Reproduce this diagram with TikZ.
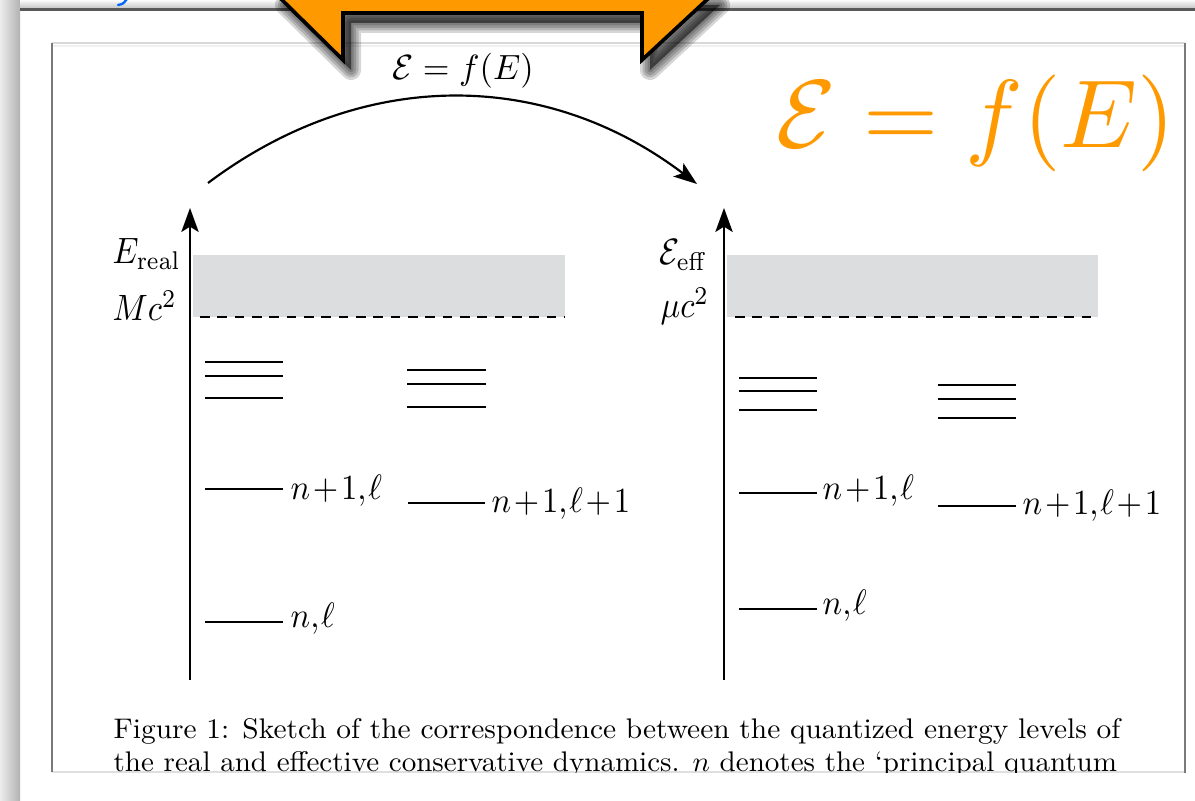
\documentclass[tikz,border=0pt]{standalone}
\usepackage{amsmath}
\usepackage{amssymb}
\usepackage{graphicx}
\usetikzlibrary{arrows.meta}

\definecolor{bandgray}{HTML}{DCDDDF}
\definecolor{slideorange}{HTML}{FF9900}
\definecolor{framegray}{HTML}{7A7A7A}

\tikzset{
  axisline/.style={line width=0.65pt, -{Stealth[length=7.2pt,width=5.2pt,inset=1.6pt]}},
  level/.style={line width=0.7pt},
  threshold/.style={line width=0.75pt, dash pattern=on 2.9pt off 2.3pt},
  axlabel/.style={anchor=base west, inner sep=0pt, xscale=0.98, yscale=1.1},
  lvllabel/.style={anchor=base west, inner sep=0pt, xscale=0.98, yscale=1.06,
    execute at begin node={\medmuskip=1.5mu\thinmuskip=1mu}},
  toplabel/.style={anchor=base, inner sep=0pt, xscale=1.03, yscale=1.05},
  caption/.style={anchor=base west, inner sep=0pt},
}

\begin{document}
\begin{tikzpicture}[x=0.3pt, y=-0.3pt]
  \useasboundingbox (0,0) rectangle (1195,801);
  % slide page and its shadow
  \fill[white] (0,0) rectangle (1195,801);
  \shade[left color=gray!15, right color=gray!60] (0,0) rectangle (20,801);
  \shade[top color=gray!3, bottom color=gray!55] (20,0) rectangle (1195,10);
  \draw[gray!70!black, line width=0.8pt] (20,9.5) -- (1195,9.5);
  \draw[blue!60!cyan, line width=0.7pt, line cap=round] (118,5) .. controls (123,4) .. (127,-1);

  % frame of the figure
  \draw[gray!30, line width=0.45pt] (52,43) -- (1185,43);
  \draw[gray!12, line width=0.45pt] (52,46) -- (1185,46);
  \draw[gray!25, line width=0.45pt] (52,772) -- (1185,772);
  \draw[framegray, line width=0.5pt] (52,43) -- (52,772);
  \draw[framegray, line width=0.6pt] (1185,43) -- (1185,773);

  % real dynamics
  \fill[bandgray] (193,255) rectangle (565,317);
  \draw[threshold] (200,317) -- (565,317);
  \coordinate (lbot) at (190,680);
  \coordinate (ltop) at (190,208);
  \draw[axisline] (lbot) -- (ltop);
  \node[axlabel] (ereal) at (112,264) {$E_{\mathrm{real}}$};
  \node[axlabel] (mcsq) at (112,321) {$Mc^2$};
  \foreach \y in {362,376,398} \draw[level] (205,\y) -- (283,\y);
  \foreach \y in {370,384,407} \draw[level] (407,\y) -- (486,\y);
  \draw[level] (205,489) -- (283,489);
  \node[lvllabel] (lnone) at (290,500) {$n+1,\ell$};
  \draw[level] (408,503) -- (485,503);
  \node[lvllabel] (lnoneone) at (491,513) {$n+1,\ell+1$};
  \draw[level] (205,622) -- (283,622);
  \node[lvllabel] (lnl) at (290,627) {$n,\ell$};

  % effective dynamics
  \fill[bandgray] (727,255) rectangle (1098,317);
  \draw[threshold] (735,317) -- (1098,317);
  \coordinate (rbot) at (724,680);
  \coordinate (rtop) at (724,208);
  \draw[axisline] (rbot) -- (rtop);
  \node[axlabel] (eeff) at (659,265) {$\mathcal{E}_{\mathrm{eff}}$};
  \node[axlabel] (mucsq) at (660,318) {$\mu c^2$};
  \foreach \y in {378,391,410} \draw[level] (739,\y) -- (817,\y);
  \foreach \y in {385,399,418} \draw[level] (938,\y) -- (1016,\y);
  \draw[level] (739,493) -- (817,493);
  \node[lvllabel] (rnone) at (822,500) {$n+1,\ell$};
  \draw[level] (938,506) -- (1016,506);
  \node[lvllabel] (rnoneone) at (1022,515) {$n+1,\ell+1$};
  \draw[level] (739,609) -- (817,609);
  \node[lvllabel] (rnl) at (822,615) {$n,\ell$};

  % mapping arrow
  \coordinate (arcstart) at (208,183);
  \coordinate (arcend) at (697,184);
  \draw[line width=0.65pt, -{Stealth[length=7pt,width=5pt,inset=1.6pt]}]
    (arcstart) .. controls (361,68) and (544,68) .. (arcend);
  \node[toplabel] (mapping) at (463,80) {$\mathcal{E} = f(E)$};

  % caption
  \node[caption] (capone) at (113,738)
    {\resizebox{302pt}{6pt}{Figure 1: Sketch of the correspondence between the quantized energy levels of}};
  \begin{scope}
    \clip (52,700) rectangle (1185,772);
    \node[caption] (captwo) at (113,771)
      {\resizebox{301pt}{6pt}{the real and effective conservative dynamics. $n$ denotes the `principal quantum}};
  \end{scope}

  % orange tab with its shadow
  \foreach \w in {6,4.5,3,1.5}
    \filldraw[black, opacity=0.16, line width=\w pt, line join=round, shift={(8,10)}]
      (277,-5) -- (343,60) -- (343,13) -- (642,13) -- (642,60) -- (712,-5) -- cycle;
  \filldraw[fill=slideorange, draw=black, line width=1.1pt]
    (277,-5) -- (343,60) -- (343,13) -- (642,13) -- (642,60) -- (712,-5) -- cycle;

  % orange formula
  \node[anchor=base, inner sep=0pt, text=slideorange, scale=2.9] (bigmapping) at (976,148)
    {$\mathcal{E} = f(E)$};
\end{tikzpicture}
\end{document}
